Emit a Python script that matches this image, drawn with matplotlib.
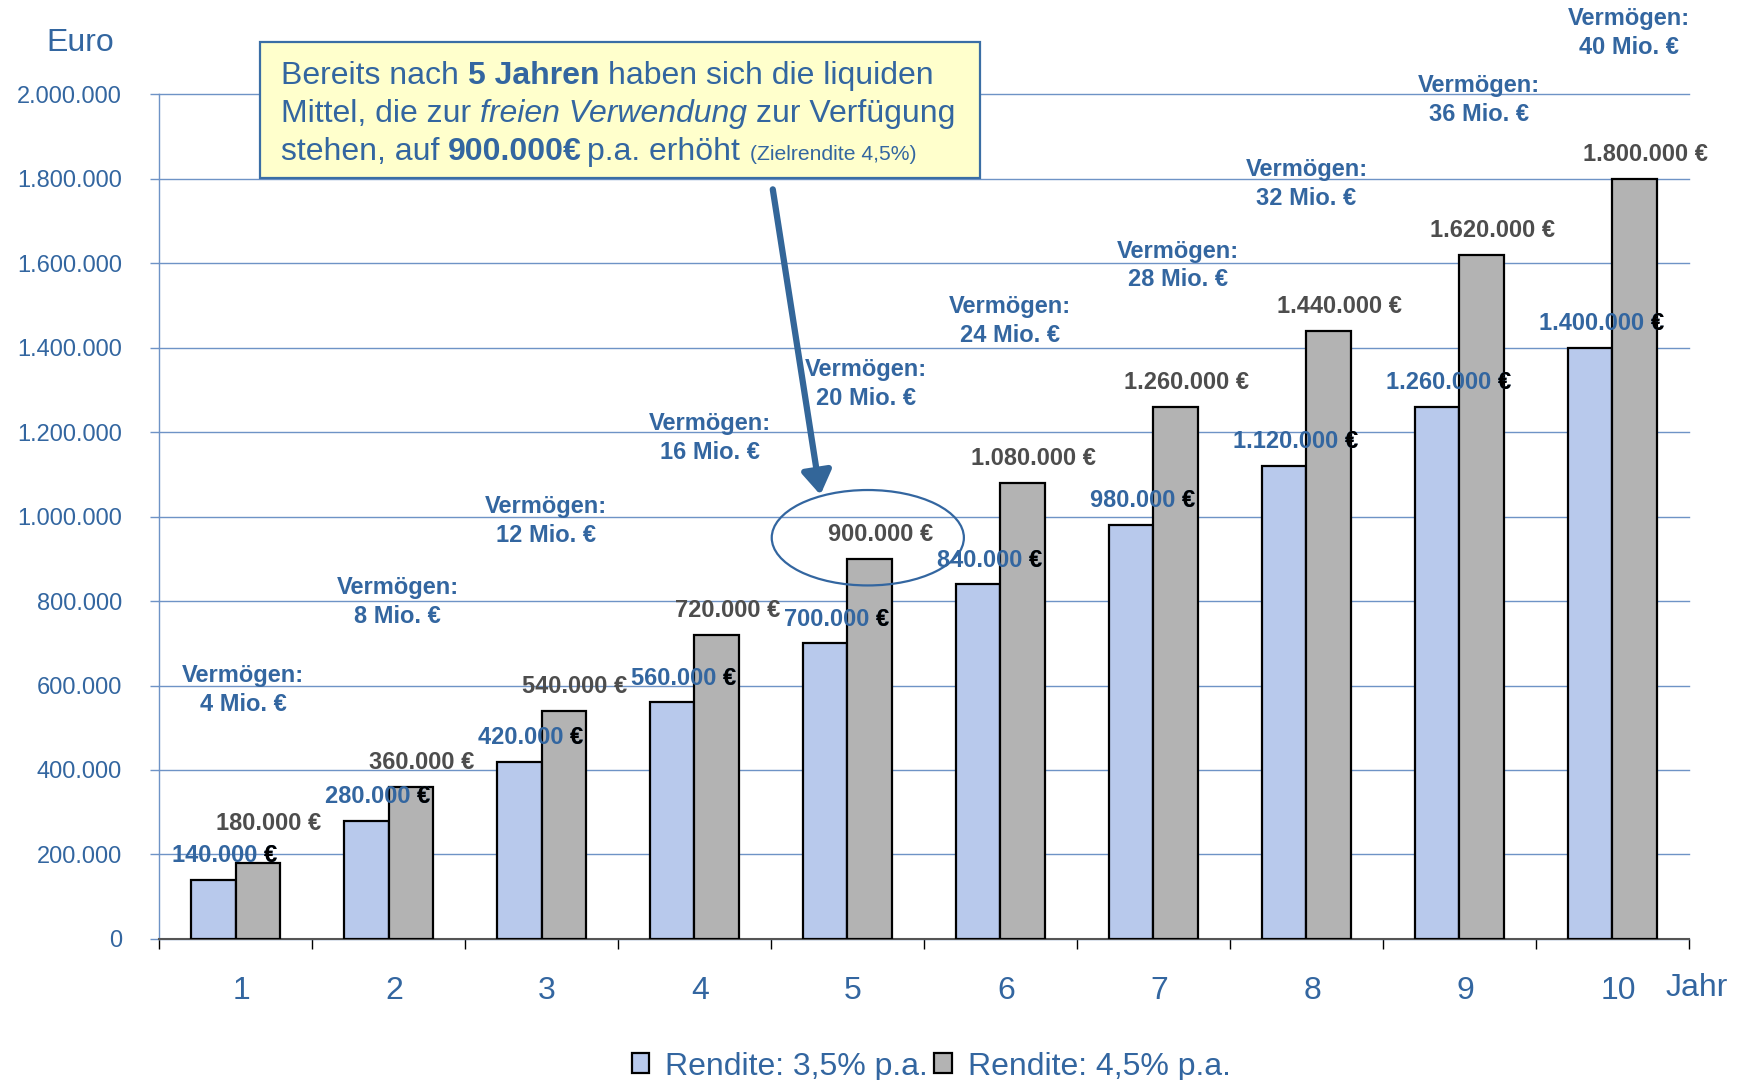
import matplotlib
matplotlib.use("Agg")
import matplotlib.pyplot as plt
from matplotlib.patches import Rectangle, Ellipse, FancyArrowPatch
from matplotlib.font_manager import FontProperties
from matplotlib.transforms import ScaledTranslation
import numpy as np

plt.rcParams["font.family"] = ["Liberation Sans", "DejaVu Sans"]

# ---- data -------------------------------------------------------------
years = [1, 2, 3, 4, 5, 6, 7, 8, 9, 10]
rendite_35 = [140000, 280000, 420000, 560000, 700000,
              840000, 980000, 1120000, 1260000, 1400000]
rendite_45 = [180000, 360000, 540000, 720000, 900000,
              1080000, 1260000, 1440000, 1620000, 1800000]
vermoegen_mio = [4, 8, 12, 16, 20, 24, 28, 32, 36, 40]
series_labels = ["Rendite: 3,5% p.a.", "Rendite: 4,5% p.a."]
y_ticks = [0, 200000, 400000, 600000, 800000, 1000000,
           1200000, 1400000, 1600000, 1800000, 2000000]

# ---- label placement (offsets from the bars) ---------------------------
vermoegen_dx = [0.05, 0.06, 0.03, 0.10, 0.12, 0.06, 0.16, 0.0, 0.13, 0.11]
vermoegen_y = [590e3, 798e3, 990e3, 1187e3, 1314e3,
               1464e3, 1595e3, 1787e3, 1987e3, 2145e3]
gray_lift = [92e3] + [57e3] * 9
blue_lift = [57e3] * 10

# ---- style ------------------------------------------------------------
TEXT_BLUE = "#3366A0"
BLUE_FILL = "#B8C9EC"
GRAY_FILL = "#B3B3B3"
GRID = "#6E93C6"
LABEL_GRAY = "#4D4D4D"
BAR_W = 0.29


def fmt(v):
    return f"{int(v):,}".replace(",", ".")


fig = plt.figure(figsize=(17.42, 10.8), dpi=100)
ax = fig.add_axes([0.0913, 0.1307, 0.8782, 0.7819])

x = np.array(years, dtype=float)
b1 = ax.bar(x - BAR_W / 2, rendite_35, BAR_W, color=BLUE_FILL,
            edgecolor="black", linewidth=1.6, label=series_labels[0], zorder=3)
b2 = ax.bar(x + BAR_W / 2, rendite_45, BAR_W, color=GRAY_FILL,
            edgecolor="black", linewidth=1.6, label=series_labels[1], zorder=3)

ax.set_xlim(0.5, 10.5)
ax.set_ylim(0, 2000000)
ax.set_axisbelow(True)
ax.yaxis.grid(True, color=GRID, linewidth=1.0, clip_on=False)

ax.set_yticks(y_ticks)
ax.set_yticklabels([fmt(v) for v in y_ticks])
ax.tick_params(axis="y", direction="out", length=6.5, width=1,
               color=GRID, labelcolor=TEXT_BLUE, labelsize=17, pad=20)

ax.set_xticks(years)
ax.set_xticklabels([str(y) for y in years])
ax.set_xticks(np.arange(0.5, 11.0, 1.0), minor=True)
ax.tick_params(axis="x", which="major", length=0, labelsize=23,
               labelcolor=TEXT_BLUE, pad=27)
ax.tick_params(axis="x", which="minor", direction="out", length=7,
               width=1, color="black")
shift = ScaledTranslation(0.056, 0, fig.dpi_scale_trans)
for lab in ax.get_xticklabels():
    lab.set_transform(lab.get_transform() + shift)

for s in ("top", "right"):
    ax.spines[s].set_visible(False)
ax.spines["left"].set_color(GRID)
ax.spines["left"].set_linewidth(1.0)
ax.spines["bottom"].set_color("#555555")
ax.spines["bottom"].set_linewidth(1.5)

fig.text(0.046, 0.960, "Euro", fontsize=23, color=TEXT_BLUE,
         ha="center", va="center")
fig.text(0.9738, 0.0852, "Jahr", fontsize=23, color=TEXT_BLUE,
         ha="center", va="center")

fig.legend(handles=[b1, b2], labels=series_labels, loc="center",
           bbox_to_anchor=(0.5345, 0.0125), ncol=2, frameon=False,
           fontsize=23, labelcolor=TEXT_BLUE, handlelength=0.55,
           handleheight=0.6, handletextpad=0.5, columnspacing=0.2)

fig.canvas.draw()
renderer = fig.canvas.get_renderer()
inv = ax.transData.inverted()

# value labels above the gray bars
for xi, v, lift in zip(x, rendite_45, gray_lift):
    ax.text(xi + BAR_W / 2 + 0.07, v + lift, fmt(v) + " €",
            ha="center", va="center", fontsize=17, fontweight="bold",
            color=LABEL_GRAY, zorder=5)

# value labels above the blue bars (number in blue, euro sign in black)
for xi, v, lift in zip(x, rendite_35, blue_lift):
    t = ax.text(xi - BAR_W / 2 + 0.073, v + lift, fmt(v) + " €",
                ha="center", va="center", fontsize=17, fontweight="bold",
                color=TEXT_BLUE, zorder=5)
    bb = t.get_window_extent(renderer)
    x_right = inv.transform((bb.x1, bb.y0))[0]
    ax.text(x_right, v + lift, "€", ha="right", va="center",
            fontsize=17, fontweight="bold", color="black", zorder=6)

# total assets per year
for xi, m, dx, yy in zip(x, vermoegen_mio, vermoegen_dx, vermoegen_y):
    ax.text(xi + dx, yy, f"Vermögen:\n{m} Mio. €", ha="center",
            va="center", fontsize=17, fontweight="bold", color=TEXT_BLUE,
            linespacing=1.32, zorder=5, clip_on=False)

# highlight of year 5
ax.add_patch(Ellipse((5.133, 950000), 1.256, 226000, fill=False,
                     edgecolor=TEXT_BLUE, linewidth=1.6, zorder=6))

arrow = FancyArrowPatch((4.509, 1781600), (4.826, 1045000),
                        arrowstyle="-|>,head_length=0.7,head_width=0.45",
                        mutation_scale=20, color="#336699", linewidth=4.5,
                        zorder=6, clip_on=False)
ax.add_patch(arrow)

# callout box
box = Rectangle((0.149, 0.8354), 0.4136, 0.1255, transform=fig.transFigure,
                facecolor="#FFFFCC", edgecolor="#3A6EA5", linewidth=1.6,
                zorder=5)
fig.add_artist(box)


def fp(size=23, weight="normal", style="normal"):
    return FontProperties(family=["Liberation Sans"], size=size,
                          weight=weight, style=style)


def advance(s, prop):
    w_full, _, _ = renderer.get_text_width_height_descent("|" + s + "|", prop, ismath=False)
    w_bar, _, _ = renderer.get_text_width_height_descent("||", prop, ismath=False)
    return w_full - w_bar


# (text, font, extra gap in pixels before the piece)
callout_lines = [
    [("Bereits nach ", fp(), 0), ("5 Jahren", fp(weight="bold"), 0),
     (" haben sich die liquiden", fp(), 0)],
    [("Mittel, die zur ", fp(), 0), ("freien Verwendung", fp(style="italic"), 0),
     (" zur Verfügung", fp(), 0)],
    [("stehen, auf ", fp(), 0), ("900.000€", fp(weight="bold"), 0),
     ("p.a. erhöht", fp(), 5), (" (Zielrendite 4,5%)", fp(size=15.2), 4)],
]
baselines = [0.9218, 0.8866, 0.8516]
fig_w = fig.bbox.width
for pieces, yb in zip(callout_lines, baselines):
    xpos = 0.1613
    for s, prop, gap in pieces:
        xpos += gap / fig_w
        stripped = s.lstrip(" ")
        lead = advance(s[: len(s) - len(stripped)], prop) if stripped != s else 0.0
        fig.text(xpos + lead / fig_w, yb, stripped.rstrip(" "),
                 fontproperties=prop, color=TEXT_BLUE, ha="left",
                 va="baseline", zorder=6)
        xpos += advance(s, prop) / fig_w

fig.savefig("out.png", dpi=100)
